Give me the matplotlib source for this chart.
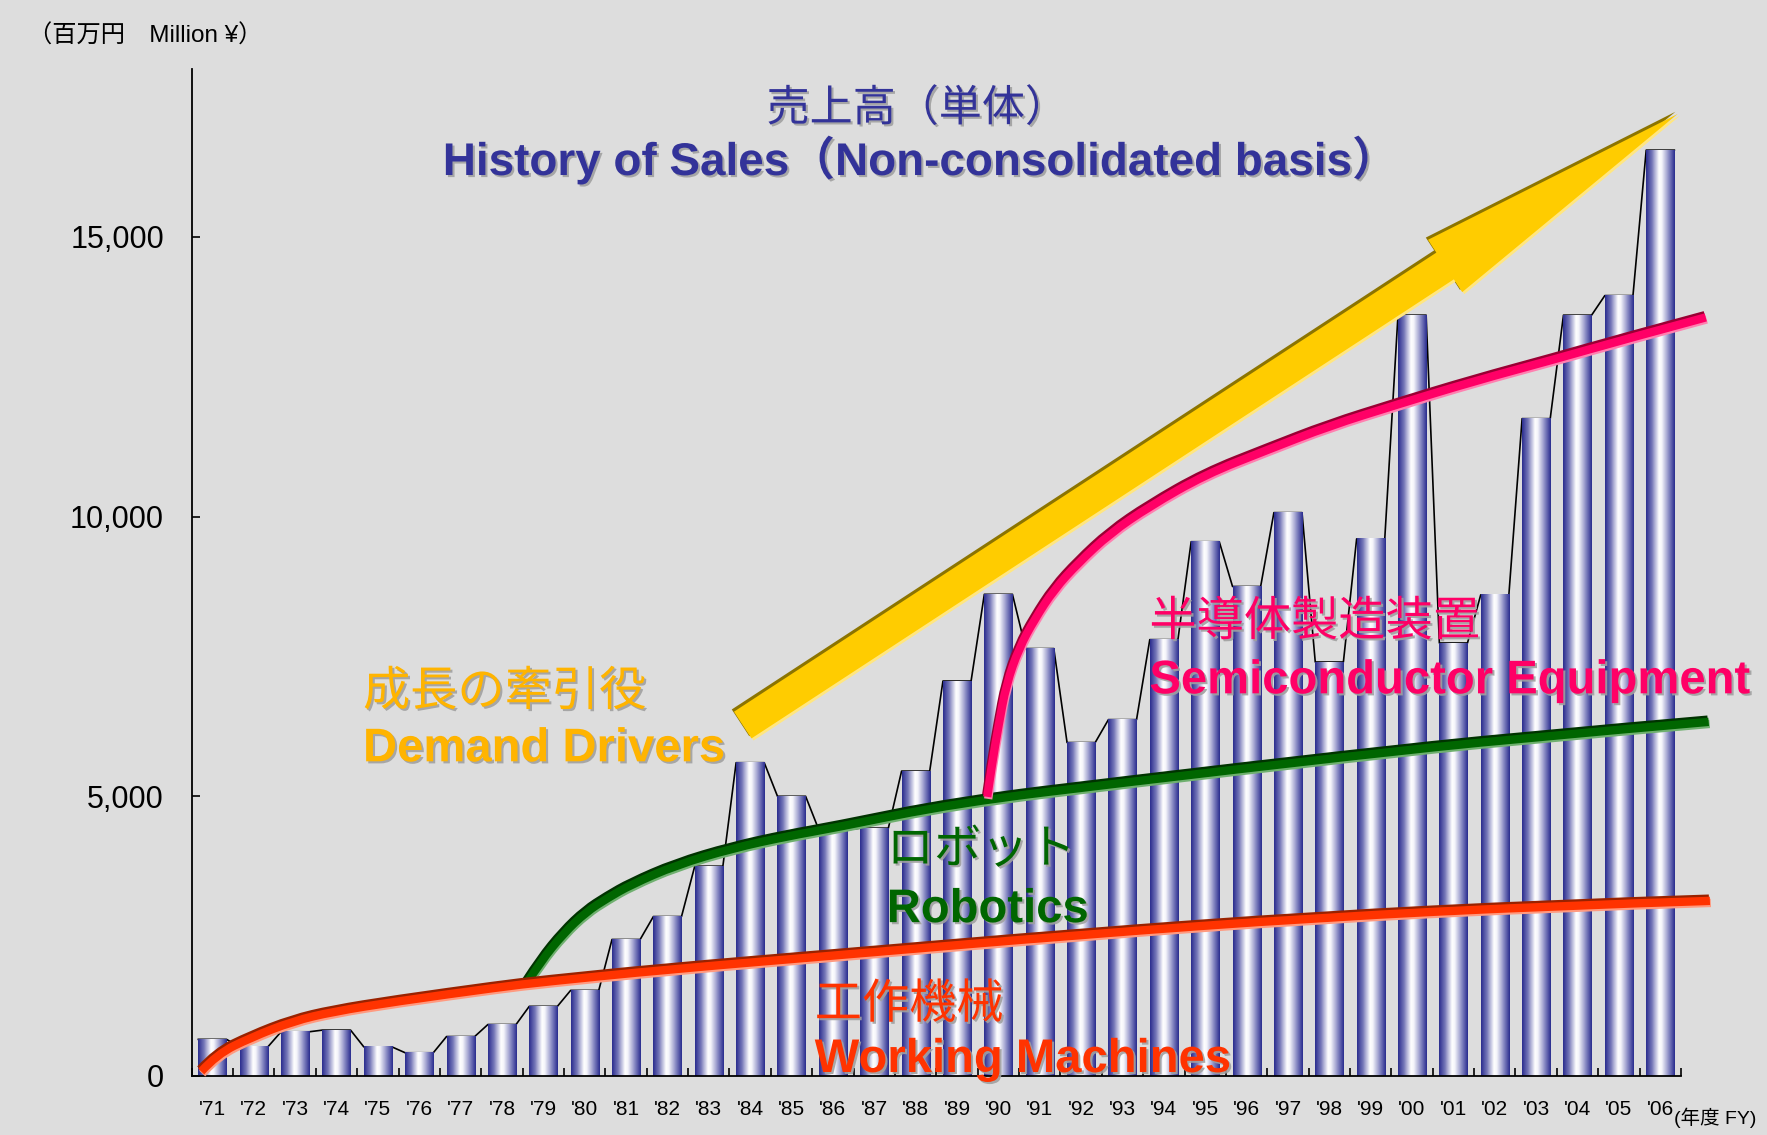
import numpy as np
import matplotlib
matplotlib.use('Agg')
import matplotlib.pyplot as plt
import matplotlib.patheffects as pe
from matplotlib.path import Path
from matplotlib.patches import PathPatch
from matplotlib.colors import LinearSegmentedColormap

years = ["'71", "'72", "'73", "'74", "'75", "'76", "'77", "'78", "'79", "'80",
         "'81", "'82", "'83", "'84", "'85", "'86", "'87", "'88", "'89", "'90",
         "'91", "'92", "'93", "'94", "'95", "'96", "'97", "'98", "'99", "'00",
         "'01", "'02", "'03", "'04", "'05", "'06"]
sales = [655, 520, 790, 820, 520, 415, 705, 920, 1245, 1530,
         2440, 2850, 3750, 5600, 5000, 4400, 4430, 5450, 7060, 8610,
         7640, 5960, 6370, 7800, 9550, 8750, 10070, 7400, 9600, 13600,
         7740, 8600, 11750, 13600, 13950, 16550]
yticks = [0, 5000, 10000, 15000]

# hand drawn trend curves (category index, value)
machines_x = [-0.27, 0.11, 0.94, 1.95, 2.92, 4.43, 6.96, 7.99, 10.95, 14.97, 21.07, 26.7, 32.38, 36.2]
machines_y = [80, 389, 690, 980, 1150, 1330, 1590, 1680, 1900, 2150, 2530, 2830, 3040, 3130]
robot_x = [7.61, 7.94, 8.49, 9.03, 9.55, 10.12, 11.21, 12.57, 13.93, 15.0, 18.0, 22.1, 27.55, 31.5, 36.17]
robot_y = [1670, 2050, 2550, 2930, 3180, 3420, 3770, 4070, 4290, 4430, 4880, 5250, 5720, 6030, 6330]
semi_x = [18.73, 18.85, 19.0, 19.19, 19.5, 19.87, 20.35, 20.93, 21.7, 22.65, 24.0, 25.51,
          27.0, 28.64, 30.5, 32.45, 34.2, 36.1]
semi_y = [4990, 5600, 6250, 7000, 7650, 8157, 8700, 9169, 9700, 10181, 10750, 11193,
          11620, 12002, 12420, 12812, 13180, 13560]

# big "demand drivers" arrow: tail and tip
arrow_tail = (12.82, 6273)
arrow_tip = (35.42, 17196)

plt.rcParams['font.family'] = ['Liberation Sans', 'Noto Sans CJK JP', 'DejaVu Sans']

bg = '#DDDDDD'
fig = plt.figure(figsize=(17.67, 11.35), dpi=100, facecolor=bg)
ax = fig.add_axes([0.1085, 0.052, 0.8428, 0.8872], facecolor=bg)

x = np.arange(len(years))
w = 0.68

# bars with cylinder shading
cyl = LinearSegmentedColormap.from_list('cyl', [(0, '#2B2E8F'), (0.2, '#7577B8'), (0.45, '#FFFFFF'),
                                               (0.55, '#F4F4FA'), (0.8, '#8587C2'), (1, '#2B2E8F')])
grad = np.linspace(0, 1, 64).reshape(1, -1)
bars = ax.bar(x, sales, width=w, color='none', edgecolor='none', zorder=2)
for b in bars:
    ax.imshow(grad, extent=(b.get_x(), b.get_x() + b.get_width(), 0, b.get_height()),
              aspect='auto', cmap=cyl, interpolation='bilinear', zorder=2)

# thin line joining bar tops
lx = np.column_stack([x - w / 2, x + w / 2]).ravel()
ly = np.repeat(sales, 2)
ax.plot(lx, ly, color='black', lw=1.2, zorder=1.9)


def smooth_path(xs, ys):
    pts = np.column_stack([xs, ys])
    verts = [pts[0]]
    codes = [Path.MOVETO]
    for i in range(1, len(pts) - 1):
        end = (pts[i] + pts[i + 1]) / 2 if i < len(pts) - 2 else pts[i + 1]
        verts += [pts[i], end]
        codes += [Path.CURVE3, Path.CURVE3]
    return Path(verts, codes)


def draw_curve(xs, ys, main, dark, light, z):
    patch = PathPatch(smooth_path(xs, ys), fill=False, edgecolor=main, lw=6,
                      capstyle='butt', joinstyle='round', zorder=z, clip_on=False)
    patch.set_path_effects([
        pe.SimpleLineShadow(offset=(-0.7, 1.6), shadow_color=dark, alpha=1),
        pe.SimpleLineShadow(offset=(0.7, -1.5), shadow_color=light, alpha=1),
        pe.Normal()])
    ax.add_patch(patch)


draw_curve(robot_x, robot_y, '#006600', '#003300', '#6FB06F', 3)
draw_curve(semi_x, semi_y, '#FF0066', '#990033', '#FF80B0', 3.1)
draw_curve(machines_x, machines_y, '#FF3300', '#992200', '#FF9A80', 3.2)

arr = ax.annotate('', xy=arrow_tip, xytext=arrow_tail,
                  arrowprops=dict(arrowstyle='simple,head_length=20,head_width=4.5,tail_width=2.3',
                                  mutation_scale=10, fc='#FFCC00', ec='none',
                                  shrinkA=0, shrinkB=0),
                  zorder=4, annotation_clip=False)
arr.arrow_patch.set_path_effects([
    pe.SimplePatchShadow(offset=(-1.6, 1.6), shadow_rgbFace='#8C7400', alpha=1),
    pe.SimplePatchShadow(offset=(1.5, -1.5), shadow_rgbFace='#FFE680', alpha=1),
    pe.Normal()])

shadow = [pe.SimplePatchShadow(offset=(1.5, -1.5), shadow_rgbFace='#A0A0A0', alpha=0.9), pe.Normal()]

labels = [
    ('成長の牽引役', 3.64, 6625, '#FFB400', 'normal'),
    ('Demand Drivers', 3.64, 5625, '#FFB400', 'bold'),
    ('ロボット', 16.3, 3804, '#006600', 'normal'),
    ('Robotics', 16.3, 2750, '#006600', 'bold'),
    ('半導体製造装置', 22.65, 7875, '#FF0066', 'normal'),
    ('Semiconductor Equipment', 22.65, 6840, '#FF0066', 'bold'),
    ('工作機械', 14.56, 1036, '#FF3300', 'normal'),
    ('Working Machines', 14.56, 71, '#FF3300', 'bold'),
]
for txt, tx, ty, col, wt in labels:
    ax.text(tx, ty, txt, color=col, fontsize=34, fontweight=wt,
            ha='left', va='baseline', zorder=5, path_effects=shadow, clip_on=False)

fig.text(0.519, 0.8934, '売上高（単体）', color='#333399', fontsize=31, ha='center',
         va='baseline', path_effects=shadow)
fig.text(0.521, 0.8458, 'History of Sales（Non-consolidated basis）', color='#333399',
         fontsize=33, fontweight='bold', ha='center', va='baseline', path_effects=shadow)
fig.text(0.016, 0.962, '（百万円　Million ¥）', fontsize=17.5, ha='left', va='baseline')
fig.text(0.9475, 0.0097, '(年度 FY)', fontsize=14, ha='left', va='baseline')

ax.set_xlim(-0.5, 35.5)
ax.set_ylim(0, 18000)
for s in ['top', 'right']:
    ax.spines[s].set_visible(False)
for s in ['left', 'bottom']:
    ax.spines[s].set_linewidth(1.3)
ax.set_xticks(x)
ax.set_xticklabels(years)
ax.set_xticks(np.arange(-0.5, 36, 1), minor=True)
ax.tick_params(axis='x', which='major', length=0, pad=17, labelsize=15)
ax.tick_params(axis='x', which='minor', direction='in', length=6, width=1.2)
ax.set_yticks(yticks)
ax.set_yticklabels(['{:,}'.format(v) for v in yticks])
ax.tick_params(axis='y', direction='in', length=6, width=1.2, pad=20, labelsize=22)

fig.savefig('out.png', dpi=100, facecolor=bg)
